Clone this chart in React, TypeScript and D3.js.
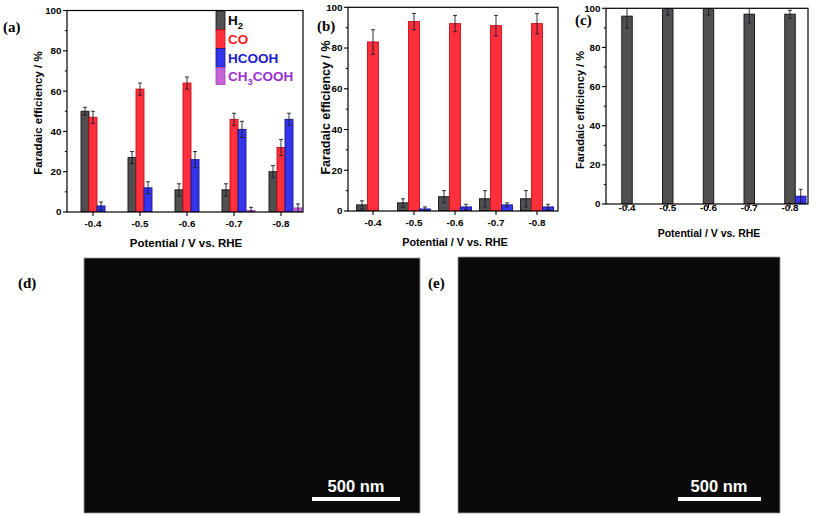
import React from "react";
import * as d3 from "d3";

// ---------- data ----------
const potentials = ["-0.4", "-0.5", "-0.6", "-0.7", "-0.8"];
const yTicks = [0, 20, 40, 60, 80, 100];
const yMinorTicks = [10, 30, 50, 70, 90];

// panel (a)
const aH2 = [50, 27, 11, 11, 20];
const aH2Err = [2, 3, 3, 3, 3];
const aCO = [47, 61, 64, 46, 32];
const aCOErr = [3, 3, 3, 3, 4];
const aHCOOH = [3, 12, 26, 41, 46];
const aHCOOHErr = [2, 3, 4, 4, 3];
const aCH3COOH = [0, 0, 0, 0.8, 2];
const aCH3COOHErr = [0, 0, 0, 1.5, 2];

// panel (b)
const bH2 = [3, 4, 7, 6, 6];
const bH2Err = [2, 2, 3, 4, 4];
const bCO = [83, 93, 92, 91, 92];
const bCOErr = [6, 4, 4, 5, 5];
const bHCOOH = [0, 1, 2, 3, 2];
const bHCOOHErr = [0, 1, 1.3, 1, 1.3];

// panel (c)
const cH2 = [96, 100, 100, 97, 97];
const cH2Err = [6, 3.5, 3.5, 4.5, 2];
const cHCOOH = [0, 0, 0, 0, 4];
const cHCOOHErr = [0, 0, 0, 0, 3.5];

const legendNames = ["H2", "CO", "HCOOH", "CH3COOH"];

// ---------- styles ----------
const STY: Record<string, { fill: string; stroke: string; text: string }> = {
  H2: { fill: "#505050", stroke: "#111111", text: "#000000" },
  CO: { fill: "#ff2f3c", stroke: "#c8101c", text: "#ff1a1a" },
  HCOOH: { fill: "#3535ee", stroke: "#15158c", text: "#1c1ccc" },
  CH3COOH: { fill: "#c663d6", stroke: "#a040b8", text: "#9a30cc" },
};

const SANS = "'Liberation Sans', Arial, sans-serif";
const SERIF = "'Liberation Serif', 'Times New Roman', serif";

type Series = { key: string; values: number[]; errs: number[]; offset: number };

type Panel = {
  id: string;
  x0: number; x1: number; y0: number; y1: number;
  catFirst: number; catLast: number;
  barW: number;
  series: Series[];
  tickFont: number;
  yTitle: { x: number; y: number; size: number };
  xTitle: { x: number; y: number; size: number };
  xLabelY: number;
};

const panels: Panel[] = [
  {
    id: "a", x0: 67, x1: 303, y0: 10.5, y1: 212, catFirst: 93, catLast: 281, barW: 8,
    series: [
      { key: "H2", values: aH2, errs: aH2Err, offset: -12 },
      { key: "CO", values: aCO, errs: aCOErr, offset: -4 },
      { key: "HCOOH", values: aHCOOH, errs: aHCOOHErr, offset: 4 },
      { key: "CH3COOH", values: aCH3COOH, errs: aCH3COOHErr, offset: 13 },
    ],
    tickFont: 9.8,
    yTitle: { x: 42, y: 113, size: 11.5 },
    xTitle: { x: 186, y: 247, size: 11.5 },
    xLabelY: 226.5,
  },
  {
    id: "b", x0: 348, x1: 558, y0: 7.3, y1: 211, catFirst: 373, catLast: 537, barW: 11,
    series: [
      { key: "H2", values: bH2, errs: bH2Err, offset: -16.5 },
      { key: "CO", values: bCO, errs: bCOErr, offset: -5.5 },
      { key: "HCOOH", values: bHCOOH, errs: bHCOOHErr, offset: 5.5 },
    ],
    tickFont: 9.8,
    yTitle: { x: 329.5, y: 107.5, size: 12.5 },
    xTitle: { x: 455, y: 246, size: 10.8 },
    xLabelY: 225.5,
  },
  {
    id: "c", x0: 606, x1: 808, y0: 8.3, y1: 204, catFirst: 627, catLast: 790, barW: 10.5,
    series: [
      { key: "H2", values: cH2, errs: cH2Err, offset: -5.25 },
      { key: "HCOOH", values: cHCOOH, errs: cHCOOHErr, offset: 5.5 },
    ],
    tickFont: 9.8,
    yTitle: { x: 584, y: 110, size: 11 },
    xTitle: { x: 709, y: 237, size: 10.5 },
    xLabelY: 210.5,
  },
];

function Label({ name, x, y, size, fill }: { name: string; x: number; y: number; size: number; fill: string }) {
  // render chemical formulas with subscripts
  const parts = name.match(/[A-Za-z]+|\d+/g) || [name];
  return (
    <text x={x} y={y} fontFamily={SANS} fontWeight="bold" fontSize={size} fill={fill}>
      {parts.map((p, i) =>
        /\d/.test(p) ? (
          <tspan key={i} fontSize={size * 0.7} dy={size * 0.28}>{p}</tspan>
        ) : (
          <tspan key={i} dy={i > 0 && /\d/.test(parts[i - 1]) ? -size * 0.28 : 0}>{p}</tspan>
        )
      )}
    </text>
  );
}

function BarPanel({ p }: { p: Panel }) {
  const y = d3.scaleLinear().domain([0, 100]).range([p.y1, p.y0]);
  const x = d3.scalePoint<string>().domain(potentials).range([p.catFirst, p.catLast]);
  const clipId = `clip-${p.id}`;
  const cap = 2;
  return (
    <g>
      <defs>
        <clipPath id={clipId}>
          <rect x={p.x0} y={p.y0} width={p.x1 - p.x0} height={p.y1 - p.y0} />
        </clipPath>
      </defs>
      <g clipPath={`url(#${clipId})`}>
        {p.series.map((s) =>
          potentials.map((c, i) => {
            const v = s.values[i];
            if (v <= 0) return null;
            const left = (x(c) as number) + s.offset;
            return (
              <rect
                key={s.key + c}
                x={left}
                y={y(v)}
                width={p.barW}
                height={y(0) - y(v)}
                fill={STY[s.key].fill}
                stroke={STY[s.key].stroke}
                strokeWidth={0.9}
              />
            );
          })
        )}
        {p.series.map((s) =>
          potentials.map((c, i) => {
            const v = s.values[i];
            const e = s.errs[i];
            if (e <= 0) return null;
            const cx = (x(c) as number) + s.offset + p.barW / 2;
            const lo = Math.max(0, v - e);
            return (
              <g key={"e" + s.key + c} stroke="#1a1a2a" strokeWidth={0.9}>
                <line x1={cx} x2={cx} y1={y(lo)} y2={y(v + e)} />
                <line x1={cx - cap} x2={cx + cap} y1={y(v + e)} y2={y(v + e)} />
                <line x1={cx - cap} x2={cx + cap} y1={y(lo)} y2={y(lo)} />
              </g>
            );
          })
        )}
      </g>
      {/* frame */}
      <rect x={p.x0} y={p.y0} width={p.x1 - p.x0} height={p.y1 - p.y0} fill="none" stroke="#000" strokeWidth={1.2} />
      {/* y ticks */}
      {yTicks.map((t) => (
        <g key={"yt" + t}>
          <line x1={p.x0 - 4} x2={p.x0} y1={y(t)} y2={y(t)} stroke="#000" strokeWidth={1.1} />
          <text x={p.x0 - 5.5} y={y(t) + 3.4} textAnchor="end" fontFamily={SANS} fontWeight="bold" fontSize={p.tickFont} fill="#000">
            {t}
          </text>
        </g>
      ))}
      {yMinorTicks.map((t) => (
        <line key={"ym" + t} x1={p.x0 - 2.2} x2={p.x0} y1={y(t)} y2={y(t)} stroke="#000" strokeWidth={1} />
      ))}
      {/* x ticks */}
      {potentials.map((c) => (
        <g key={"xt" + c}>
          <line x1={x(c)} x2={x(c)} y1={p.y1} y2={p.y1 + 4} stroke="#000" strokeWidth={1.1} />
          <text x={x(c)} y={p.xLabelY} textAnchor="middle" fontFamily={SANS} fontWeight="bold" fontSize={p.tickFont} fill="#000">
            {c}
          </text>
        </g>
      ))}
      <text
        transform={`translate(${p.yTitle.x},${p.yTitle.y}) rotate(-90)`}
        textAnchor="middle"
        fontFamily={SANS}
        fontWeight="bold"
        fontSize={p.yTitle.size}
        fill="#000"
      >
        Faradaic efficiency / %
      </text>
      <text x={p.xTitle.x} y={p.xTitle.y} textAnchor="middle" fontFamily={SANS} fontWeight="bold" fontSize={p.xTitle.size} fill="#000">
        Potential / V vs. RHE
      </text>
    </g>
  );
}

function Legend() {
  const lx = 216;
  const top = 11;
  const h = 18.8;
  const w = 9;
  return (
    <g>
      {legendNames.map((n, i) => (
        <g key={n}>
          <rect x={lx} y={top + i * h} width={w} height={i === 3 ? 17 : h} fill={STY[n].fill} stroke={STY[n].stroke} strokeWidth={0.8} />
          <Label name={n} x={lx + 12} y={top + i * h + 14} size={13.5} fill={STY[n].text} />
        </g>
      ))}
    </g>
  );
}

function SEM({ x, y, w, h, barX, barW, textX }: { x: number; y: number; w: number; h: number; barX: number; barW: number; textX: number }) {
  return (
    <g>
      <rect x={x} y={y} width={w} height={h} fill="#0a0a0a" stroke="#9a9a9a" strokeWidth={0.8} />
      <text x={textX} y={y + h - 21} textAnchor="middle" fontFamily={SANS} fontWeight="bold" fontSize={16.5} fill="#ffffff">
        500 nm
      </text>
      <rect x={barX} y={y + h - 16} width={barW} height={4} fill="#ffffff" />
    </g>
  );
}

export default function App() {
  return (
    <svg
      width={816}
      height={517}
      viewBox="0 0 816 517"
      style={{ position: "absolute", left: 0, top: 0, background: "#fff" }}
    >
      <rect x={0} y={0} width={816} height={517} fill="#ffffff" />
      {panels.map((p) => (
        <BarPanel key={p.id} p={p} />
      ))}
      <Legend />
      <SEM x={84} y={258} w={336} h={255} barX={312} barW={88} textX={356} />
      <SEM x={458} y={257} w={322} h={256} barX={678} barW={83} textX={719} />
      {[
        { t: "(a)", x: 3, y: 32 },
        { t: "(b)", x: 317, y: 31 },
        { t: "(c)", x: 575, y: 25 },
        { t: "(d)", x: 18, y: 288 },
        { t: "(e)", x: 428, y: 288 },
      ].map((l) => (
        <text key={l.t} x={l.x} y={l.y} fontFamily={SERIF} fontWeight="bold" fontSize={15} fill="#000">
          {l.t}
        </text>
      ))}
    </svg>
  );
}
